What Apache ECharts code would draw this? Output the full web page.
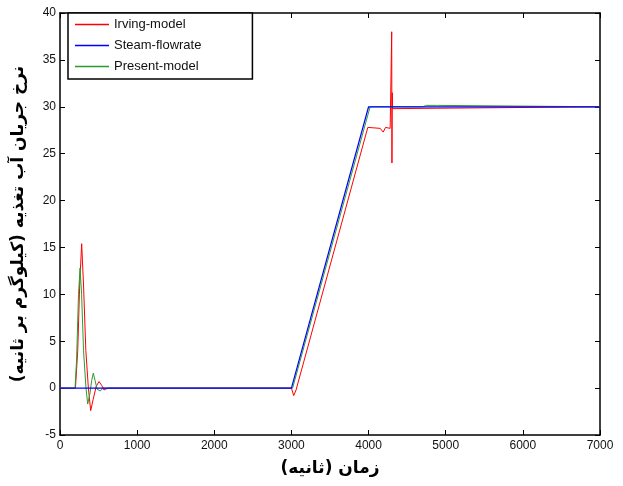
<!DOCTYPE html>
<html>
<head>
<meta charset="utf-8">
<script src="https://cdn.jsdelivr.net/npm/echarts@6/dist/echarts.min.js"></script>
<style>html,body{margin:0;padding:0;background:#fff}#c{width:623px;height:486px}</style>
</head>
<body>
<div id="c"></div>
<script>
var seriesNames = ['Irving-model', 'Steam-flowrate', 'Present-model'];
var xTicks = [0, 1000, 2000, 3000, 4000, 5000, 6000, 7000];
var yTicks = [-5, 0, 5, 10, 15, 20, 25, 30, 35, 40];

var irvingT = [0, 200, 230, 255, 281, 305, 335, 368, 398, 430, 470, 506, 540, 570, 620, 3000, 3030, 3060, 3990, 4150, 4190, 4220, 4280, 4296, 4300, 4303, 4307, 4311, 4320, 7000];
var irvingV = [0, 0, 4, 11, 15.4, 11, 4, 0, -2.4, -1.2, 0.2, 0.7, 0.3, -0.2, 0, 0, -0.8, -0.2, 27.8, 27.7, 27.3, 27.8, 27.7, 27.8, 38, 24, 31.5, 29.8, 30, 30];

var steamT = [0, 3000, 4000, 7000];
var steamV = [0, 0, 30, 30];

var presentT = [0, 195, 215, 240, 260, 280, 305, 337, 359, 390, 410, 432, 455, 480, 520, 560, 3015, 4020, 4700, 4750, 4880, 4900, 7000];
var presentV = [0, 0, 3, 10, 12.8, 10, 4, 0, -1.7, -0.5, 0.8, 1.6, 0.8, -0.1, -0.3, 0, 0, 30, 30, 30.15, 30.15, 30, 30];

function pairs(t, v) { return t.map(function (x, i) { return [x, v[i]]; }); }

var chart = echarts.init(document.getElementById('c'), null, { renderer: 'canvas' });
var tickStyle = { show: true, inside: true, length: 5, lineStyle: { color: '#000', width: 1 } };
var lineAx = { show: true, onZero: false, lineStyle: { color: '#000', width: 1.5 } };
var lab = { color: '#111', fontFamily: 'Arial, "Liberation Sans"', fontSize: 12, formatter: function (v) { return String(v); } };
var lineIcon = 'path://M0,0L34,0L34,1.5L0,1.5Z';

chart.setOption({
  animation: false,
  backgroundColor: '#fff',
  grid: { left: 60, top: 13, right: 23, bottom: 51, containLabel: false },
  legend: {
    data: seriesNames.map(function (n) { return { name: n, icon: lineIcon }; }),
    orient: 'vertical',
    left: 68, top: 13,
    padding: [5, 51, 6, 7],
    itemWidth: 34, itemHeight: 14, itemGap: 8,
    backgroundColor: '#fff',
    borderColor: '#000', borderWidth: 1.5,
    borderRadius: 0,
    textStyle: { color: '#111', fontFamily: 'Arial, "Liberation Sans"', fontSize: 13 }
  },
  xAxis: [
    { type: 'value', min: 0, max: 7000, interval: 1000, position: 'bottom',
      axisLine: lineAx, axisTick: tickStyle, splitLine: { show: false },
      axisLabel: Object.assign({ margin: 5 }, lab),
      name: 'زمان (ثانیه)', nameLocation: 'middle', nameGap: 25,
      nameTextStyle: { color: '#000', fontWeight: 'bold', fontSize: 17, fontFamily: '"DejaVu Sans"' } },
    { type: 'value', min: 0, max: 7000, interval: 1000, position: 'top',
      axisLine: lineAx, axisTick: tickStyle, splitLine: { show: false }, axisLabel: { show: false } }
  ],
  yAxis: [
    { type: 'value', min: -5, max: 40, interval: 5, position: 'left',
      axisLine: lineAx, axisTick: tickStyle, splitLine: { show: false },
      axisLabel: Object.assign({ margin: 4 }, lab),
      name: 'نرخ جریان آب تغذیه (کیلوگرم بر ثانیه)', nameLocation: 'middle', nameGap: 33, nameRotate: 90,
      nameTextStyle: { color: '#000', fontWeight: 'bold', fontSize: 17, fontFamily: '"DejaVu Sans"' } },
    { type: 'value', min: -5, max: 40, interval: 5, position: 'right',
      axisLine: lineAx, axisTick: tickStyle, splitLine: { show: false }, axisLabel: { show: false } }
  ],
  series: [
    { name: seriesNames[0], type: 'line', data: pairs(irvingT, irvingV), symbol: 'none', z: 2,
      lineStyle: { color: '#ff0000', width: 1 }, itemStyle: { color: '#ff0000' } },
    { name: seriesNames[2], type: 'line', data: pairs(presentT, presentV), symbol: 'none', z: 3,
      lineStyle: { color: '#2e9a2e', width: 1 }, itemStyle: { color: '#2e9a2e' } },
    { name: seriesNames[1], type: 'line', data: pairs(steamT, steamV), symbol: 'none', z: 4,
      lineStyle: { color: '#0000ff', width: 1.2 }, itemStyle: { color: '#0000ff' } }
  ]
});
</script>
</body>
</html>
